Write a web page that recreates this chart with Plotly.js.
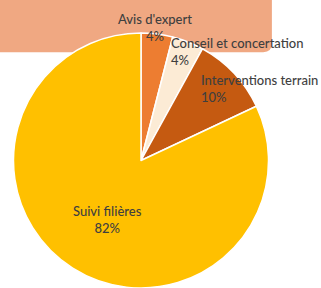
<!DOCTYPE html>
<html>
<head>
<meta charset="utf-8">
<script src="https://cdn.plot.ly/plotly-3.0.1.min.js"></script>
<style>html,body{margin:0;padding:0;background:#fff;}#chart{width:321px;height:288px;}</style>
</head>
<body>
<div id="chart"></div>
<script>
const labels = ["Avis d'expert", "Conseil et concertation", "Interventions terrain", "Suivi filières"];
const values = [4, 4, 10, 82];
const colors = ["#ED7D31", "#FCEBD5", "#C55A11", "#FFC000"];

const total = values.reduce((a, b) => a + b, 0);
const pct = values.map(v => Math.round(v / total * 100) + '%');

// label placement (paper coords)
const labelPos = [
  {x: 155/321, y: 1 - 27/288, xanchor: 'center', align: 'center'},
  {x: 169/321, y: 1 - 51/288, xanchor: 'left', align: 'left'},
  {x: 199/321, y: 1 - 88/288, xanchor: 'left', align: 'left'},
  {x: 107/321, y: 1 - 219/288, xanchor: 'center', align: 'center'}
];

const annotations = labels.map((l, i) => ({
  text: l + '<br>' + pct[i],
  x: labelPos[i].x, y: labelPos[i].y,
  xref: 'paper', yref: 'paper',
  xanchor: labelPos[i].xanchor, yanchor: 'middle',
  align: labelPos[i].align,
  showarrow: false,
  font: {family: 'Lato, sans-serif', size: 13, color: '#3F3F3F', weight: 500}
}));

const trace = {
  type: 'pie',
  labels: labels,
  values: values,
  sort: false,
  direction: 'clockwise',
  rotation: 0,
  marker: {colors: colors, line: {color: '#ffffff', width: 1.5}},
  textinfo: 'none',
  hoverinfo: 'label+percent',
  domain: {x: [13/321, 269/321], y: [0, 255/288]},
  showlegend: false
};

const layout = {
  width: 321, height: 288,
  margin: {l: 0, r: 0, t: 0, b: 0},
  paper_bgcolor: '#ffffff',
  showlegend: false,
  shapes: [{
    type: 'path',
    xref: 'paper', yref: 'paper',
    path: 'M 0 1 L 0.847 1 L 0.847 0.85 Q 0.847 0.819 0.82 0.819 L 0 0.819 Z',
    fillcolor: '#F0A882',
    line: {width: 0},
    layer: 'below'
  }],
  annotations: annotations
};

Plotly.newPlot('chart', [trace], layout, {displayModeBar: false, staticPlot: true});
</script>
</body>
</html>
